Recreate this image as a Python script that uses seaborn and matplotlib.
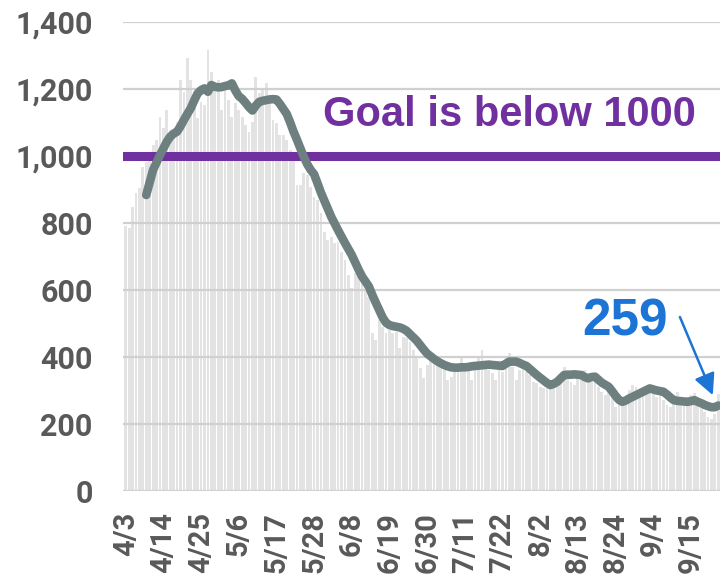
import numpy as np
import pandas as pd
import matplotlib
matplotlib.use("Agg")
import matplotlib.pyplot as plt
import seaborn as sns

# ---- data ----
start_date = "2020-04-03"
daily_counts = [
    790, 785, 848, 888, 904, 968, 982, 990, 1032, 1047,
    1117, 1082, 1137, 1077, 1057, 1100, 1226, 1191, 1291, 1226,
    1186, 1112, 1161, 1151, 1316, 1251, 1206, 1226, 1137, 1201,
    1167, 1117, 1157, 1137, 1117, 1092, 1072, 1100, 1236, 1186,
    1200, 1216, 1181, 1107, 1097, 1062, 1062, 1047, 1017, 987,
    913, 913, 948, 943, 908, 878, 868, 828, 774, 749,
    758, 739, 744, 714, 689, 644, 605, 649, 644, 639,
    620, 580, 471, 450, 510, 490, 471, 480, 471, 475,
    426, 460, 455, 445, 421, 401, 366, 336, 376, 396,
    386, 381, 376, 371, 331, 341, 361, 366, 403, 371,
    361, 331, 366, 396, 421, 371, 361, 351, 331, 381,
    356, 401, 411, 371, 331, 361, 371, 356, 346, 326,
    321, 311, 306, 306, 311, 326, 321, 341, 371, 346,
    326, 316, 346, 331, 361, 331, 326, 336, 311, 296,
    286, 301, 276, 251, 271, 276, 281, 301, 316, 311,
    296, 301, 311, 306, 296, 281, 291, 271, 257, 251,
    266, 296, 271, 261, 281, 286, 291, 271, 261, 236,
    221, 215, 230, 290,
]
ma_first_day = 6  # 7-day average starts on 4/9
moving_avg = [
    883, 920, 958, 980, 1002, 1022, 1042, 1057, 1066, 1072,
    1088, 1107, 1125, 1142, 1165, 1186, 1196, 1201, 1191, 1211,
    1206, 1204, 1205, 1208, 1210, 1216, 1195, 1178, 1170, 1158,
    1145, 1135, 1150, 1161, 1164, 1166, 1168, 1169, 1168, 1155,
    1140, 1125, 1100, 1072, 1048, 1022, 997, 975, 958, 945,
    918, 890, 866, 842, 818, 798, 778, 759, 740, 722,
    704, 682, 660, 640, 625, 610, 585, 562, 540, 518,
    502, 495, 492, 490, 488, 484, 478, 468, 458, 448,
    435, 422, 410, 402, 394, 387, 381, 376, 372, 369,
    368, 368, 369, 369, 370, 372, 373, 374, 375, 376,
    377, 376, 375, 374, 373, 380, 386, 386, 386, 382,
    377, 373, 364, 355, 346, 338, 330, 322, 316, 320,
    326, 336, 346, 347, 347, 348, 347, 346, 340, 336,
    340, 341, 332, 323, 317, 311, 298, 284, 272, 266,
    270, 276, 281, 286, 291, 296, 301, 306, 303, 300,
    298, 296, 288, 279, 271, 269, 268, 267, 266, 268,
    271, 266, 262, 257, 253, 250, 250, 255,
]
tick_labels = ["4/3", "4/14", "4/25", "5/6", "5/17", "5/28", "6/8", "6/19",
               "6/30", "7/11", "7/22", "8/2", "8/13", "8/24", "9/4", "9/15"]
tick_step = 11
y_ticks = [0, 200, 400, 600, 800, 1000, 1200, 1400]
goal_value = 1000
goal_text = "Goal is below 1000"
latest_text = "259"

# ---- styling ----
sns.set_theme(style="white")
plt.rcParams["font.family"] = ["Liberation Sans", "DejaVu Sans"]

BAR = "#e3e3e3"
GRID = "#d0d0d0"
LINE = "#6e7f7f"
PURPLE = "#7030a0"
BLUE = "#1c74d4"
LABEL = "#595959"

fig = plt.figure(figsize=(7.22, 5.80), dpi=100)
fig.patch.set_facecolor("white")
ax = fig.add_axes([123.3 / 722, 89 / 580, 596.7 / 722, 469.3 / 580])

dates = pd.date_range(start_date, periods=len(daily_counts))
df = pd.DataFrame({"day": np.arange(len(daily_counts)), "count": daily_counts,
                   "date": dates})
sns.barplot(data=df, x="day", y="count", color=BAR, saturation=1,
            width=0.82, native_scale=True, ax=ax, zorder=1,
            linewidth=0, edgecolor="none")

ma_df = pd.DataFrame({"day": np.arange(ma_first_day, ma_first_day + len(moving_avg)),
                      "avg": moving_avg})
sns.lineplot(data=ma_df, x="day", y="avg", color=LINE, lw=6.2, ax=ax,
             zorder=4, solid_capstyle="round", solid_joinstyle="round")

ax.axhline(goal_value, color=PURPLE, lw=6.5, zorder=3)

ax.set_ylim(0, 1400)
ax.set_xlim(-0.7, len(daily_counts) - 0.5)
ax.set_yticks(y_ticks)
ax.set_yticklabels([f"{v:,}" for v in y_ticks])
ax.set_xticks(np.arange(len(tick_labels)) * tick_step)
ax.set_xticklabels(tick_labels, rotation=90)

ax.yaxis.grid(True, color=GRID, lw=1.6)
ax.xaxis.grid(False)
ax.set_axisbelow("line")
for s in ax.spines.values():
    s.set_visible(False)
ax.set_xlabel("")
ax.set_ylabel("")

ax.tick_params(axis="y", length=0, pad=22, labelsize=22, labelcolor=LABEL)
ax.tick_params(axis="x", length=0, pad=15, labelsize=21, labelcolor=LABEL)
for t in ax.get_yticklabels() + ax.get_xticklabels():
    t.set_fontweight("bold")
    t.set_fontfamily(["Roboto", "DejaVu Sans"])
for t in ax.get_xticklabels():
    t.set_va("top")

ax.text(112, 1122, goal_text, color=PURPLE, fontsize=30, fontweight="bold",
        ha="center", va="center", zorder=5)
ax.text(145.9, 503, latest_text, color=BLUE, fontsize=37, fontweight="bold",
        ha="center", va="center", zorder=5)
ax.annotate("", xy=(171.4, 286), xytext=(161.8, 519),
            arrowprops=dict(arrowstyle="-|>", color=BLUE, lw=1.8,
                            mutation_scale=32, shrinkA=0, shrinkB=0),
            zorder=5)

fig.savefig("out.png", dpi=100, facecolor="white")
